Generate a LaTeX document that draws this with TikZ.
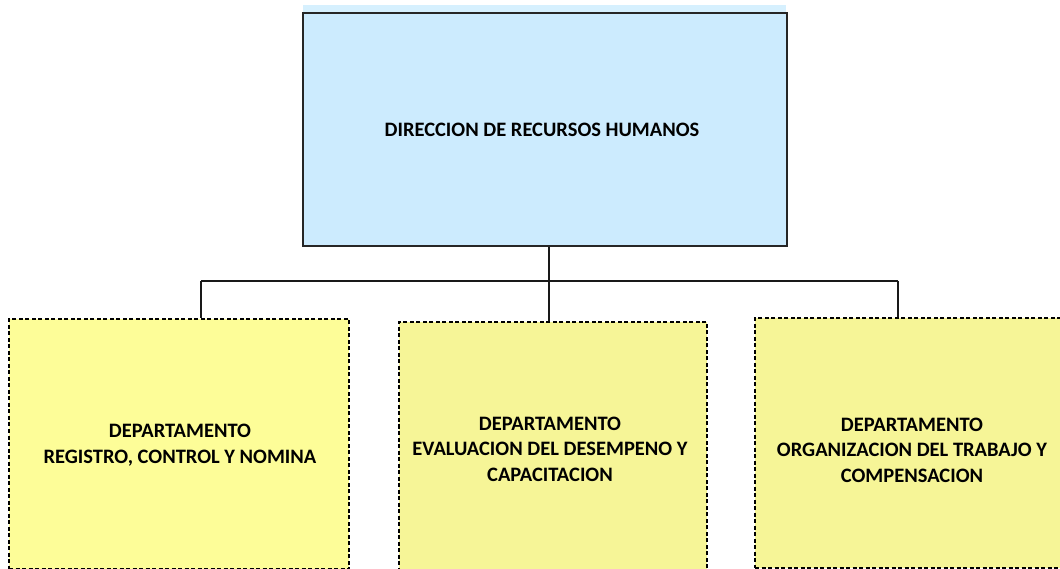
\documentclass[tikz,border=0pt]{standalone}
\usepackage{fontspec}
\setmainfont{Carlito}
\begin{document}
\begin{tikzpicture}[x=1pt,y=-1pt,
  toptext/.style={font=\bfseries\fontsize{20.5}{25.5}\selectfont, align=center, text=black},
  topbox/.style={draw=black!85, line width=1.8pt, fill=topblue, minimum width=484pt, minimum height=233pt, inner sep=0pt},
  deptbox/.style={draw=black, line width=1.9pt, dash pattern=on 4pt off 2.5pt, minimum width=#1, minimum height=250pt, inner sep=0pt},
  conn/.style={draw=black!90, line width=1.6pt}]
\definecolor{topblue}{HTML}{CCEBFE}
\definecolor{stripblue}{HTML}{D6F0FE}
\definecolor{yelA}{HTML}{FDFD98}
\definecolor{yelB}{HTML}{F6F597}
\useasboundingbox (0,0) rectangle (1060,569);
\clip (0,0) rectangle (1060,569);
\fill[stripblue] (303,5) rectangle (786,13);
\node[topbox] (top) at (545,129.5) {};
\node[toptext] (toplbl) at (542,130) {DIRECCION DE RECURSOS HUMANOS};
\node[deptbox=340pt, fill=yelA] (d1) at (179,444) {};
\node[deptbox=308pt, fill=yelB] (d2) at (553,447) {};
\node[deptbox=314pt, fill=yelB] (d3) at (912,443) {};
\node[toptext] (d1lbl) at (180,445) {DEPARTAMENTO\\REGISTRO, CONTROL Y NOMINA};
\node[toptext] (d2lbl) at (550,449) {DEPARTAMENTO\\EVALUACION DEL DESEMPENO Y\\CAPACITACION};
\node[toptext] (d3lbl) at (912,450) {DEPARTAMENTO\\ORGANIZACION DEL TRABAJO Y\\COMPENSACION};
\coordinate (j) at (549,281);
\coordinate (jl) at (201,281);
\coordinate (jr) at (898,281);
\draw[conn] (top.south -| j) -- (j |- d2.north);
\draw[conn] (jl) -- (jr);
\draw[conn] (jl) -- (jl |- d1.north);
\draw[conn] (jr) -- (jr |- d3.north);
\end{tikzpicture}
\end{document}
